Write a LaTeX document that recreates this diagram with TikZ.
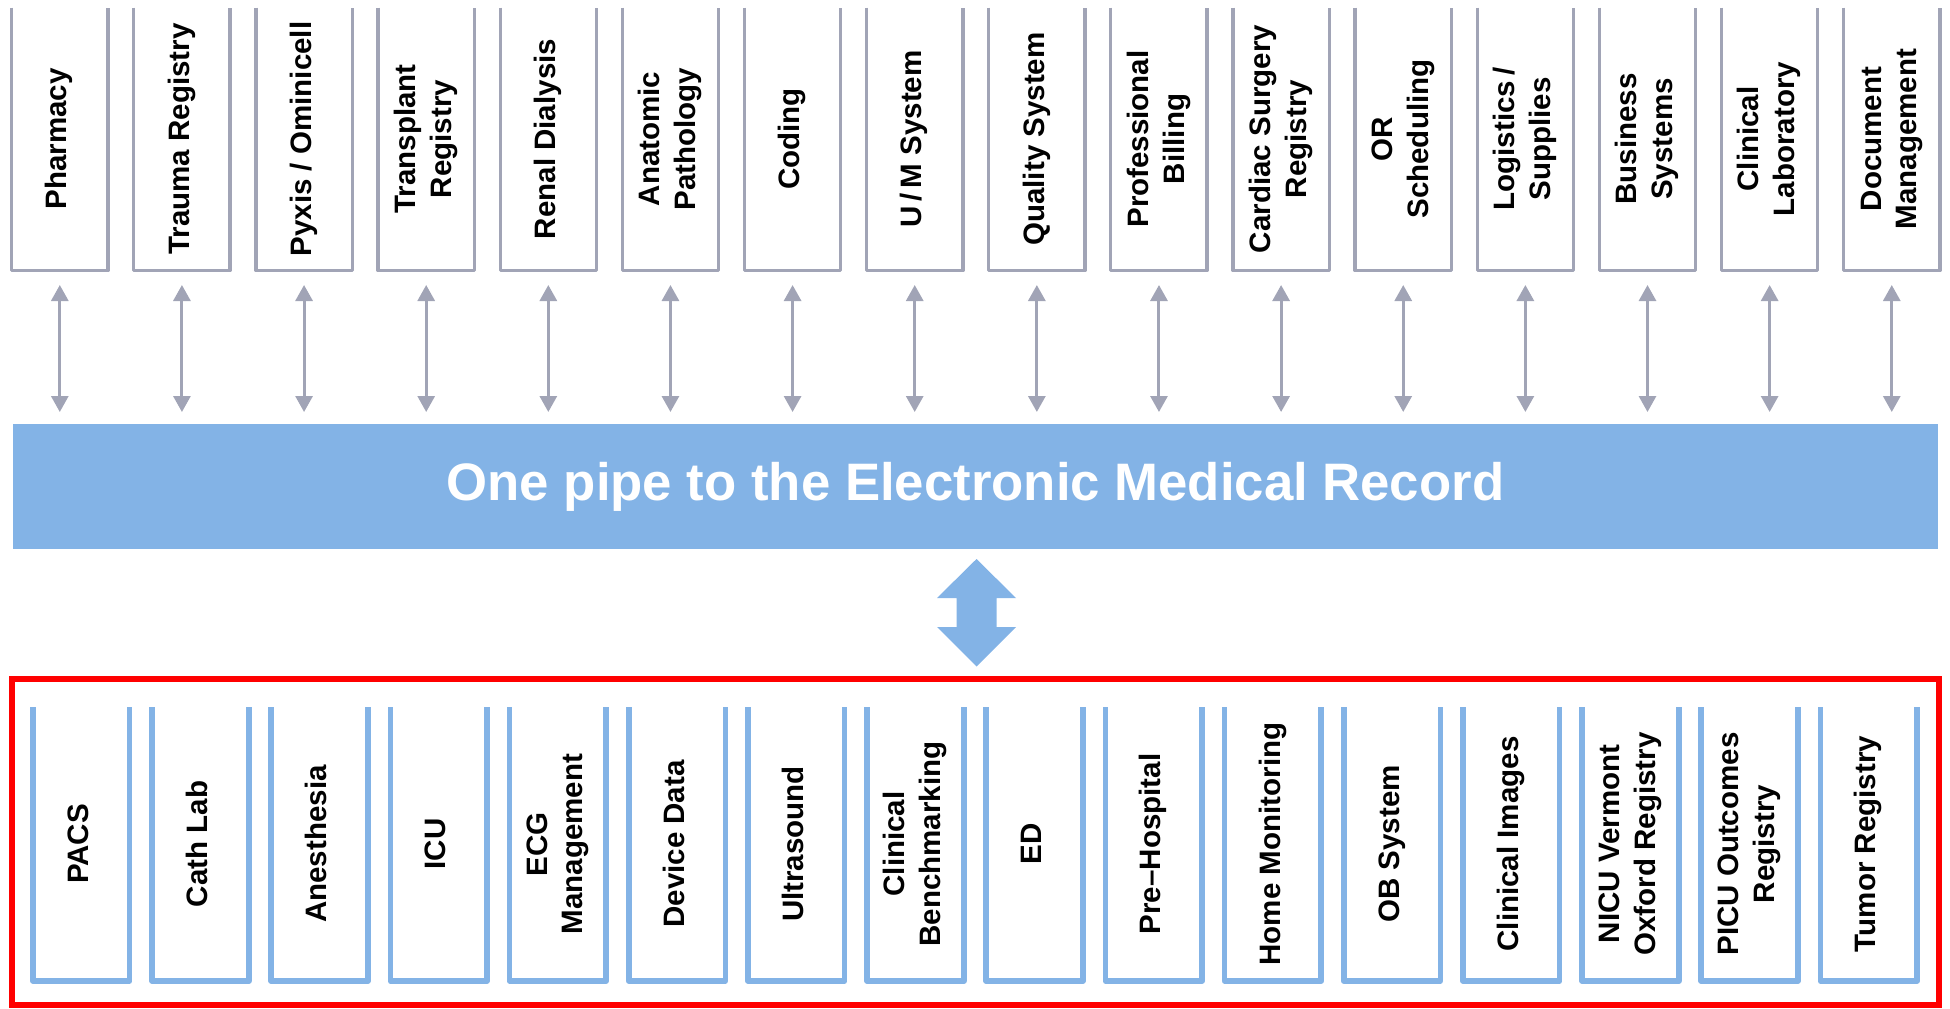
\documentclass[tikz,border=0pt]{standalone}
\usepackage{fontspec}
\setmainfont{Liberation Sans}
\usepackage{graphicx}
\usetikzlibrary{arrows.meta}
\definecolor{boxgray}{HTML}{A1A4B6}
\definecolor{pipeblue}{HTML}{83B3E6}
\definecolor{groupred}{HTML}{FF0000}
\newcommand{\spacingtop}{122.13}
\newcommand{\spacingbot}{119.17}
\newcommand{\vlabel}[1]{\rotatebox{90}{\begin{tabular}{@{}c@{}}#1\end{tabular}}}

\begin{document}
\begin{tikzpicture}[x=0.1mm, y=0.1mm]
  \tikzset{topbox/.style={minimum width=9.63mm, minimum height=26.3mm, inner sep=0pt, outer sep=0pt,
      font=\fontsize{8.4}{10.2}\selectfont\bfseries,
      append after command={\pgfextra{\draw[boxgray, line width=0.94pt, line join=round]
        (\tikzlastnode.north west) -- (\tikzlastnode.south west) -- (\tikzlastnode.south east) -- (\tikzlastnode.north east);}}}}
  \tikzset{botbox/.style={minimum width=9.67mm, minimum height=27.4mm, inner sep=0pt, outer sep=0pt,
      font=\fontsize{8.4}{10.2}\selectfont\bfseries,
      append after command={\pgfextra{\draw[pipeblue, line width=1.6pt, line join=round]
        (\tikzlastnode.north west) -- (\tikzlastnode.south west) -- (\tikzlastnode.south east) -- (\tikzlastnode.north east);}}}}
  \tikzset{pipe/.style={fill=pipeblue, text=white, minimum width=192.5mm, minimum height=12.5mm,
      inner sep=0pt, outer sep=0pt, font=\fontsize{15}{18}\selectfont\bfseries}}
  \tikzset{groupbox/.style={draw=groupred, line width=1.7pt, minimum width=192.7mm, minimum height=32.65mm, inner sep=0pt}}
  \tikzset{link/.style={boxgray, line width=0.85pt, shorten <=1.45mm, shorten >=1.2mm,
      {Triangle[width=1.7mm, length=1.6mm]}-{Triangle[width=1.7mm, length=1.6mm]}}}
  \useasboundingbox (0,0) rectangle (1950,1008);

  % systems above the pipe
  \node[topbox] (pharmacy) at (59.8+0*\spacingtop, 869) {\vlabel{Pharmacy}};
  \node[topbox] (trauma) at (59.8+1*\spacingtop, 869) {\vlabel{Trauma Registry}};
  \node[topbox] (pyxis) at (59.8+2*\spacingtop, 869) {\vlabel{Pyxis / Ominicell}};
  \node[topbox] (transplant) at (59.8+3*\spacingtop, 869) {\vlabel{Transplant\\Registry}};
  \node[topbox] (renal) at (59.8+4*\spacingtop, 869) {\vlabel{Renal Dialysis}};
  \node[topbox] (pathology) at (59.8+5*\spacingtop, 869) {\vlabel{Anatomic\\Pathology}};
  \node[topbox] (coding) at (59.8+6*\spacingtop, 869) {\vlabel{Coding}};
  \node[topbox] (umsystem) at (59.8+7*\spacingtop, 869) {\vlabel{U\,/\,M System}};
  \node[topbox] (quality) at (59.8+8*\spacingtop, 869) {\vlabel{Quality System}};
  \node[topbox] (billing) at (59.8+9*\spacingtop, 869) {\vlabel{Professional\\Billing}};
  \node[topbox] (cardiac) at (59.8+10*\spacingtop, 869) {\vlabel{Cardiac Surgery\\Registry}};
  \node[topbox] (orsched) at (59.8+11*\spacingtop, 869) {\vlabel{OR\\Scheduling}};
  \node[topbox] (logistics) at (59.8+12*\spacingtop, 869) {\vlabel{Logistics\,/\\Supplies}};
  \node[topbox] (business) at (59.8+13*\spacingtop, 869) {\vlabel{Business\\Systems}};
  \node[topbox] (clinlab) at (59.8+14*\spacingtop, 869) {\vlabel{Clinical\\Laboratory}};
  \node[topbox] (documents) at (59.8+15*\spacingtop, 869) {\vlabel{Document\\Management}};

  \node[pipe] (pipe) at (975.5, 521.5) {One pipe to the Electronic Medical Record};

  \draw (pharmacy.south) edge[link] (pharmacy.south |- pipe.north);
  \draw (trauma.south) edge[link] (trauma.south |- pipe.north);
  \draw (pyxis.south) edge[link] (pyxis.south |- pipe.north);
  \draw (transplant.south) edge[link] (transplant.south |- pipe.north);
  \draw (renal.south) edge[link] (renal.south |- pipe.north);
  \draw (pathology.south) edge[link] (pathology.south |- pipe.north);
  \draw (coding.south) edge[link] (coding.south |- pipe.north);
  \draw (umsystem.south) edge[link] (umsystem.south |- pipe.north);
  \draw (quality.south) edge[link] (quality.south |- pipe.north);
  \draw (billing.south) edge[link] (billing.south |- pipe.north);
  \draw (cardiac.south) edge[link] (cardiac.south |- pipe.north);
  \draw (orsched.south) edge[link] (orsched.south |- pipe.north);
  \draw (logistics.south) edge[link] (logistics.south |- pipe.north);
  \draw (business.south) edge[link] (business.south |- pipe.north);
  \draw (clinlab.south) edge[link] (clinlab.south |- pipe.north);
  \draw (documents.south) edge[link] (documents.south |- pipe.north);

  % big two-way arrow
  \coordinate (hub) at (976.5, 395.5);
  \fill[pipeblue] (hub) ++(0,53.5) -- ++(39.5,-39) -- ++(-19.5,0) -- ++(0,-29) -- ++(19.5,0)
    -- ++(-39.5,-39.5) -- ++(-39.5,39.5) -- ++(19.5,0) -- ++(0,29) -- ++(-19.5,0) -- cycle;

  % systems below the pipe
  \node[groupbox] (group) at (975.5, 166.25) {};
  \node[botbox] (pacs) at (81.2+0*\spacingbot, 164) {\vlabel{PACS}};
  \node[botbox] (cathlab) at (81.2+1*\spacingbot, 164) {\vlabel{Cath Lab}};
  \node[botbox] (anesthesia) at (81.2+2*\spacingbot, 164) {\vlabel{Anesthesia}};
  \node[botbox] (icu) at (81.2+3*\spacingbot, 164) {\vlabel{ICU}};
  \node[botbox] (ecg) at (81.2+4*\spacingbot, 164) {\vlabel{ECG\\Management}};
  \node[botbox] (device) at (81.2+5*\spacingbot, 164) {\vlabel{Device Data}};
  \node[botbox] (ultrasound) at (81.2+6*\spacingbot, 164) {\vlabel{Ultrasound}};
  \node[botbox] (benchmark) at (81.2+7*\spacingbot, 164) {\vlabel{Clinical\\Benchmarking}};
  \node[botbox] (ed) at (81.2+8*\spacingbot, 164) {\vlabel{ED}};
  \node[botbox] (prehosp) at (81.2+9*\spacingbot, 164) {\vlabel{Pre--Hospital}};
  \node[botbox] (homemon) at (81.2+10*\spacingbot, 164) {\vlabel{Home Monitoring}};
  \node[botbox] (obsystem) at (81.2+11*\spacingbot, 164) {\vlabel{OB System}};
  \node[botbox] (clinimages) at (81.2+12*\spacingbot, 164) {\vlabel{Clinical Images}};
  \node[botbox] (nicu) at (81.2+13*\spacingbot, 164) {\vlabel{NICU Vermont\\Oxford Registry}};
  \node[botbox] (picu) at (81.2+14*\spacingbot, 164) {\vlabel{PICU Outcomes\\Registry}};
  \node[botbox] (tumor) at (81.2+15*\spacingbot, 164) {\vlabel{Tumor Registry}};
\end{tikzpicture}
\end{document}
